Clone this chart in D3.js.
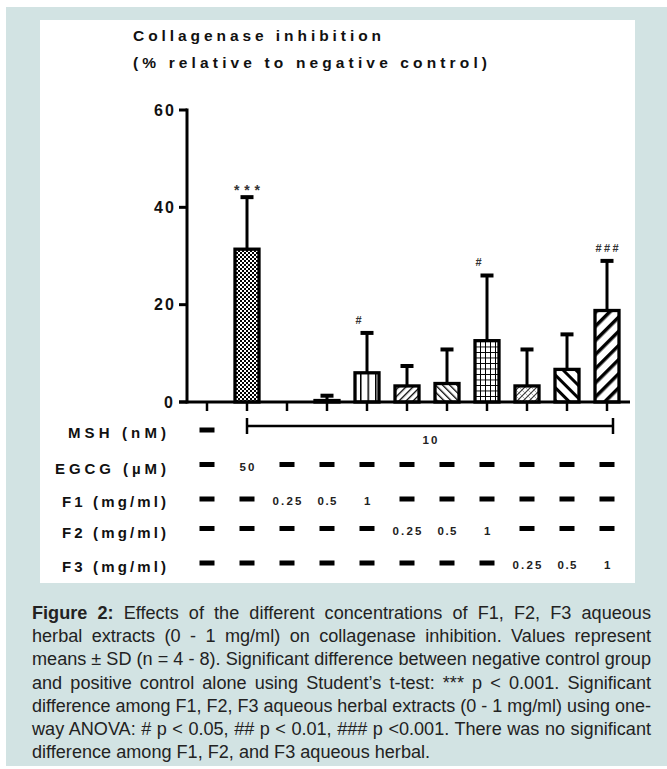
<!DOCTYPE html>
<html>
<head>
<meta charset="utf-8">
<script src="https://cdn.jsdelivr.net/npm/d3@7.9.0/dist/d3.min.js"></script>
<style>
  html, body { margin: 0; padding: 0; background: #fff; }
  svg { display: block; }
</style>
</head>
<body>
<svg id="fig" width="667" height="769"></svg>
<script>
// groups along the x axis
const groups = ['Control', 'EGCG 50', 'F1 0.25', 'F1 0.5', 'F1 1', 'F2 0.25', 'F2 0.5', 'F2 1', 'F3 0.25', 'F3 0.5', 'F3 1'];
// collagenase inhibition, mean and SD (% of negative control)
const means = [0, 31.4, 0, 0.3, 6.0, 3.3, 3.8, 12.6, 3.3, 6.7, 18.8];
const sds = [0, 10.9, 0, 1.2, 8.4, 4.3, 7.2, 13.6, 7.7, 7.4, 10.4];
const signif = ['', '***', '', '', '#', '', '', '#', '', '', '###'];
const fills = ['none', 'check', 'none', 'white', 'vlines', 'fineFwd', 'fineBack', 'grid', 'cross', 'wideBack', 'wideFwd'];
const yTicks = [0, 20, 40, 60];

// treatment table under the axis
const mshRow = ['-', '10', '10', '10', '10', '10', '10', '10', '10', '10', '10'];
const egcgRow = ['-', '50', '-', '-', '-', '-', '-', '-', '-', '-', '-'];
const f1Row = ['-', '-', '0.25', '0.5', '1', '-', '-', '-', '-', '-', '-'];
const f2Row = ['-', '-', '-', '-', '-', '0.25', '0.5', '1', '-', '-', '-'];
const f3Row = ['-', '-', '-', '-', '-', '-', '-', '-', '0.25', '0.5', '1'];
const rowLabels = ['MSH (nM)', 'EGCG (µM)', 'F1 (mg/ml)', 'F2 (mg/ml)', 'F3 (mg/ml)'];

const titleLines = ['Collagenase inhibition', '(% relative to negative control)'];
const captionLines = [
  'Figure 2: Effects of the different concentrations of F1, F2, F3 aqueous',
  'herbal extracts (0 - 1 mg/ml) on collagenase inhibition. Values represent',
  'means ± SD (n = 4 - 8). Significant difference between negative control group',
  'and positive control alone using Student\u2019s t-test: *** p < 0.001. Significant',
  'difference among F1, F2, F3 aqueous herbal extracts (0 - 1 mg/ml) using one-',
  'way ANOVA: # p < 0.05, ## p < 0.01, ### p <0.001. There was no significant',
  'difference among F1, F2, and F3 aqueous herbal.'
];

const svg = d3.select('#fig');
const FONT = '"Liberation Sans", Arial, sans-serif';

// frame
svg.append('rect').attr('x', 6).attr('y', 7).attr('width', 661).attr('height', 759).attr('fill', '#d2e3e3');
svg.append('rect').attr('x', 40).attr('y', 20).attr('width', 595).attr('height', 563).attr('fill', '#fff');

// patterns
const defs = svg.append('defs');
function stripes(id, w, lw, angle, color) {
  const p = defs.append('pattern').attr('id', id).attr('patternUnits', 'userSpaceOnUse')
    .attr('width', w).attr('height', w).attr('patternTransform', `rotate(${angle})`);
  p.append('rect').attr('width', w).attr('height', w).attr('fill', '#fff');
  p.append('rect').attr('width', lw).attr('height', w).attr('fill', color || '#000');
}
const chk = defs.append('pattern').attr('id', 'check').attr('patternUnits', 'userSpaceOnUse').attr('width', 4).attr('height', 4);
chk.append('rect').attr('width', 4).attr('height', 4).attr('fill', '#fff');
chk.append('rect').attr('width', 2).attr('height', 2).attr('fill', '#000');
chk.append('rect').attr('x', 2).attr('y', 2).attr('width', 2).attr('height', 2).attr('fill', '#000');
stripes('vlines', 7.5, 1.5, 0);
stripes('fineFwd', 5, 1.3, 45);
stripes('fineBack', 5, 1.3, -45);
stripes('wideBack', 9, 3, -45);
stripes('wideFwd', 10, 3.5, 45);
const grid = defs.append('pattern').attr('id', 'grid').attr('patternUnits', 'userSpaceOnUse').attr('width', 5).attr('height', 5.5);
grid.append('rect').attr('width', 5).attr('height', 5.5).attr('fill', '#fff');
grid.append('path').attr('d', 'M0.5,0V5.5M0,0.5H5').attr('stroke', '#000').attr('stroke-width', 1);
const cross = defs.append('pattern').attr('id', 'cross').attr('patternUnits', 'userSpaceOnUse').attr('width', 6).attr('height', 6);
cross.append('rect').attr('width', 6).attr('height', 6).attr('fill', '#fff');
cross.append('path').attr('d', 'M0,6L6,0M-1,1L1,-1M5,7L7,5').attr('stroke', '#333').attr('stroke-width', 1.1);
cross.append('path').attr('d', 'M0,0L6,6').attr('stroke', '#888').attr('stroke-width', 0.7);

// scales
const x = d3.scalePoint().domain(d3.range(groups.length)).range([207, 607]);
const y = d3.scaleLinear().domain([0, 60]).range([402, 110]);

function spaced(sel, px, py, str, width, size, anchor) {
  const t = sel.append('text').attr('y', py).attr('font-family', FONT).attr('font-weight', 'bold')
    .attr('font-size', size).attr('fill', '#111').text(str);
  let x0 = px;
  if (anchor === 'end') x0 = px - width;
  if (anchor === 'middle') x0 = px - width / 2;
  t.attr('x', x0).attr('textLength', width).attr('lengthAdjust', 'spacing');
  return t;
}

// title
spaced(svg, 133, 41, titleLines[0], 248, 15.5, 'start');
spaced(svg, 133, 68, titleLines[1], 354, 15.5, 'start');

// y axis
svg.append('line').attr('x1', 187).attr('x2', 187).attr('y1', y(60) - 1.5).attr('y2', y(0) + 1.5)
  .attr('stroke', '#000').attr('stroke-width', 3);
yTicks.forEach(v => {
  svg.append('line').attr('x1', 179).attr('x2', 187).attr('y1', y(v)).attr('y2', y(v))
    .attr('stroke', '#000').attr('stroke-width', 3);
  spaced(svg, 174, y(v) + 5.5, String(v), v === 0 ? 10 : 20, 16, 'end');
});

// bars
const barW = 24;
groups.forEach((g, i) => {
  if (means[i] <= 0) return;
  svg.append('rect').attr('x', x(i) - barW / 2).attr('width', barW)
    .attr('y', y(means[i])).attr('height', y(0) - y(means[i]))
    .attr('fill', fills[i] === 'white' ? '#fff' : `url(#${fills[i]})`)
    .attr('stroke', '#000').attr('stroke-width', 3.3);
  const top = y(means[i] + sds[i]);
  svg.append('line').attr('x1', x(i)).attr('x2', x(i)).attr('y1', y(means[i])).attr('y2', top)
    .attr('stroke', '#000').attr('stroke-width', 3);
  svg.append('line').attr('x1', x(i) - 6.5).attr('x2', x(i) + 6.5).attr('y1', top + 1).attr('y2', top + 1)
    .attr('stroke', '#000').attr('stroke-width', 4);
  if (signif[i]) {
    const star = signif[i][0] === '*';
    spaced(svg, x(i), top - (star ? 1 : 8), signif[i], star ? 26 : 23, star ? 14 : 11, 'middle')
      .attr('fill', '#333');
  }
});

// x axis
svg.append('line').attr('x1', 179).attr('x2', 630).attr('y1', y(0)).attr('y2', y(0))
  .attr('stroke', '#000').attr('stroke-width', 3);
groups.forEach((g, i) => {
  svg.append('line').attr('x1', x(i)).attr('x2', x(i)).attr('y1', y(0)).attr('y2', y(0) + 9)
    .attr('stroke', '#000').attr('stroke-width', 2.5);
});

// treatment table
const rowY = [430, 464.5, 499, 528.5, 563];
const labelW = [98, 111, 104, 104, 104];
const labelBase = [438, 474, 507, 538, 572];
rowLabels.forEach((l, r) => spaced(svg, 166, labelBase[r], l, labelW[r], 15, 'end'));

function dash(cx, cy) {
  svg.append('rect').attr('x', cx - 7.5).attr('y', cy - 2.5).attr('width', 15).attr('height', 5).attr('fill', '#000');
}
function valueText(cx, base, str) {
  const w = { '0.25': 29, '0.5': 19, '50': 15, '10': 15, '1': 6 }[str];
  spaced(svg, cx, base, str, w, 11.5, 'middle').attr('fill', '#222');
}

// MSH row: dash + bracket
dash(x(0), rowY[0]);
const first = mshRow.indexOf('10');
const bx1 = x(first), bx2 = x(mshRow.length - 1) + 6;
svg.append('line').attr('x1', bx1).attr('x2', bx2).attr('y1', 426).attr('y2', 426).attr('stroke', '#000').attr('stroke-width', 2.5);
[bx1, bx2].forEach(bx => svg.append('line').attr('x1', bx).attr('x2', bx).attr('y1', 418).attr('y2', 434)
  .attr('stroke', '#000').attr('stroke-width', 2.5));
valueText((bx1 + bx2) / 2, 444, '10');

[egcgRow, f1Row, f2Row, f3Row].forEach((row, k) => {
  const r = k + 1;
  row.forEach((v, i) => {
    if (v === '-') dash(x(i), rowY[r]);
    else valueText(x(i), rowY[r] + 6, v);
  });
});

// caption: squeeze the face so the tightest line (line 3) fills the width naturally
const capLeft = 32, capWidth = 619;
const probe = svg.append('text').attr('font-family', FONT).attr('font-size', 18.5).text(captionLines[2]);
const sx = Math.min(1, capWidth / probe.node().getComputedTextLength());
probe.remove();
const cap = svg.append('g').attr('transform', `scale(${sx},1)`)
  .attr('font-family', FONT).attr('font-size', 18.5).attr('fill', '#222');
const capW = capWidth / sx;
captionLines.forEach((line, i) => {
  const t = cap.append('text').attr('x', capLeft / sx).attr('y', 619 + i * 23.2);
  if (i === 0) {
    t.append('tspan').attr('font-weight', 'bold').text('Figure 2:');
    t.append('tspan').text(line.slice(9));
  } else {
    t.text(line);
  }
  if (i < captionLines.length - 1) {
    const w = t.node().getComputedTextLength();
    const n = (line.match(/ /g) || []).length;
    const extra = capW - w;
    if (extra >= 0) t.style('word-spacing', (extra / n) + 'px');
    else t.attr('textLength', capW).attr('lengthAdjust', 'spacingAndGlyphs');
  }
});
</script>
</body>
</html>
